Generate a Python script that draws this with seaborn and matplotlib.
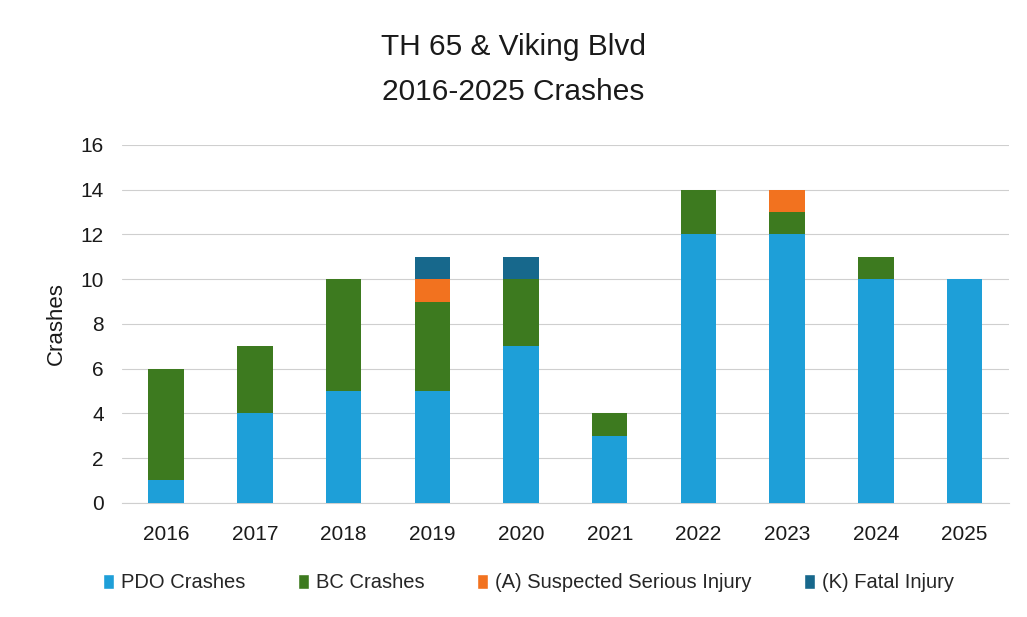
import matplotlib
matplotlib.use("Agg")
import matplotlib.pyplot as plt
import seaborn as sns
import pandas as pd
import numpy as np
from matplotlib.patches import Patch

years = ["2016", "2017", "2018", "2019", "2020", "2021", "2022", "2023", "2024", "2025"]
pdo = [1, 4, 5, 5, 7, 3, 12, 12, 10, 10]
bc = [5, 3, 5, 4, 3, 1, 2, 1, 1, 0]
serious = [0, 0, 0, 1, 0, 0, 0, 1, 0, 0]
fatal = [0, 0, 0, 1, 1, 0, 0, 0, 0, 0]

series_names = ["PDO Crashes", "BC Crashes", "(A) Suspected Serious Injury", "(K) Fatal Injury"]
colors = ["#1E9FD8", "#3D7A1F", "#F2721F", "#17688C"]

sns.set_theme(style="white")
plt.rcParams["font.family"] = ["Liberation Sans", "DejaVu Sans"]

df = pd.DataFrame({"Year": years, "PDO": pdo, "BC": bc, "A": serious, "K": fatal})
df["c1"] = df["PDO"]
df["c2"] = df["c1"] + df["BC"]
df["c3"] = df["c2"] + df["A"]
df["c4"] = df["c3"] + df["K"]

fig = plt.figure(figsize=(10.27, 6.17), dpi=100)
ax = fig.add_axes([0.1185, 0.185, 0.864, 0.580])

for col, color in zip(["c4", "c3", "c2", "c1"], colors[::-1]):
    sns.barplot(data=df, x="Year", y=col, color=color, width=0.4, ax=ax,
                saturation=1, edgecolor="none", zorder=3)

ax.set_xlim(-0.5, len(years) - 0.5)
ax.set_ylim(0, 16)
ax.set_yticks(range(0, 17, 2))
ax.yaxis.grid(True, color="#cfcfcf", linewidth=0.8, zorder=0)
ax.set_axisbelow(True)
for s in ["top", "right", "left"]:
    ax.spines[s].set_visible(False)
ax.spines["bottom"].set_color("#cfcfcf")
ax.spines["bottom"].set_linewidth(0.8)
ax.tick_params(axis="both", labelsize=15, colors="#1a1a1a", length=0)
ax.tick_params(axis="x", pad=16)
ax.tick_params(axis="y", pad=13)
ax.set_xlabel("")
ax.set_ylabel("Crashes", fontsize=16, color="#1a1a1a", labelpad=10)

fig.text(0.5, 1 - 47 / 617, "TH 65 & Viking Blvd", ha="center", va="center",
         fontsize=21.5, color="#1a1a1a")
fig.text(0.5, 1 - 92 / 617, "2016-2025 Crashes", ha="center", va="center",
         fontsize=21.5, color="#1a1a1a")

handles = [Patch(facecolor=c, label=n) for c, n in zip(colors, series_names)]
fig.legend(handles=handles, loc="center", bbox_to_anchor=(0.515, 1 - 583 / 617), ncol=4,
           frameon=False, fontsize=14.5, handlelength=0.55, handleheight=0.8,
           handletextpad=0.35, columnspacing=2.6)

fig.savefig("out.png", dpi=100)
